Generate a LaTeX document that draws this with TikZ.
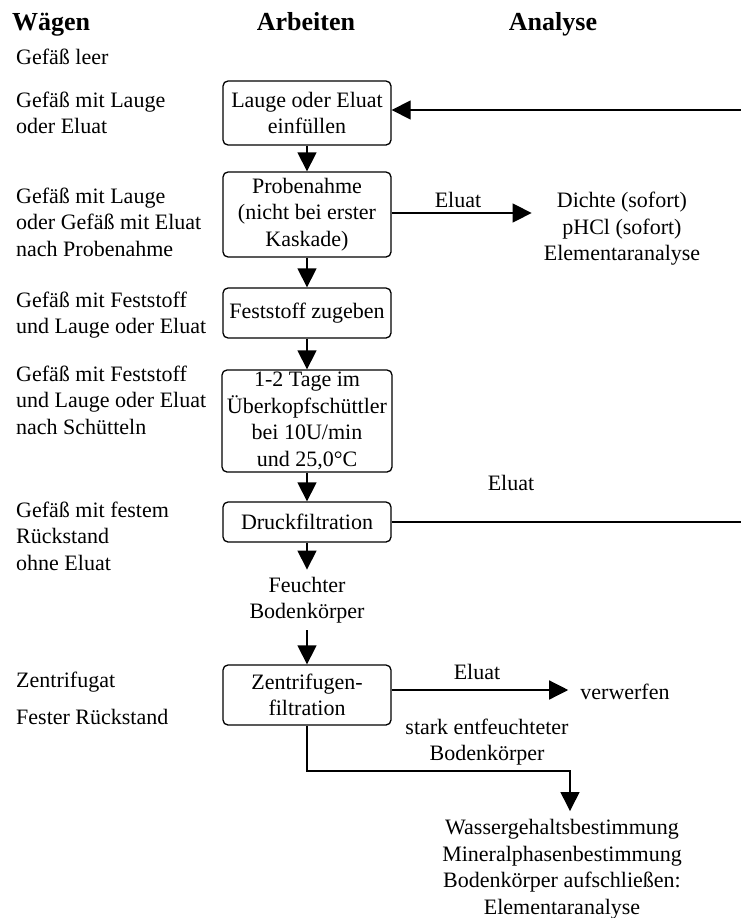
\documentclass[tikz,border=0pt]{standalone}
\usepackage{fontspec}
\setmainfont{Liberation Serif}
\usetikzlibrary{arrows.meta}

\begin{document}
\begin{tikzpicture}[x=1pt, y=-1pt,
    every node/.style={font=\fontsize{22}{26.5}\selectfont, inner sep=0pt},
    head/.style={font=\fontsize{26}{28}\selectfont\bfseries, anchor=base},
    wtext/.style={anchor=west, align=left},
    atext/.style={align=center},
    stepbox/.style={draw, rounded corners=5pt, line width=1.3pt,
        minimum width=168pt, align=center, inner sep=3pt},
    line/.style={line width=1.3pt},
    flow/.style={line width=1.3pt, -{Triangle[length=19pt,width=19pt]}}]
    \useasboundingbox (0,0) rectangle (741,918);

    \node[head, anchor=base west] (hwaegen) at (12,30) {Wägen};
    \node[head] (harbeit) at (306,30) {Arbeiten};
    \node[head] (hanalyse) at (553,30) {Analyse};

    \node[wtext] (w0) at (16,57) {Gefäß leer};
    \node[wtext] (w1) at (16,113) {Gefäß mit Lauge\\oder Eluat};
    \node[wtext] (w2) at (16,222) {Gefäß mit Lauge\\oder Gefäß mit Eluat\\nach Probenahme};
    \node[wtext] (w3) at (16,315) {Gefäß mit Feststoff\\und Lauge oder Eluat};
    \node[wtext] (w4) at (16,400) {Gefäß mit Feststoff\\und Lauge oder Eluat\\nach Schütteln};
    \node[wtext] (w5) at (16,536) {Gefäß mit festem\\Rückstand\\ohne Eluat};
    \node[wtext] (w6) at (16,682) {Zentrifugat};
    \node[wtext] (w7) at (16,717) {Fester Rückstand};

    \node[stepbox, minimum height=64pt] (einfuellen) at (307,113) {Lauge oder Eluat\\einfüllen};
    \node[stepbox, minimum height=85pt] (probe) at (307,214.5) {Probenahme\\(nicht bei erster\\Kaskade)};
    \node[stepbox, minimum height=50pt] (feststoff) at (307,313) {Feststoff zugeben};
    \node[stepbox, minimum width=170pt, minimum height=102pt, inner sep=1pt] (schuetteln) at (307,421)
        {1-2 Tage im\\Überkopfschüttler\\bei 10U/min\\und 25,0°C};
    \node[stepbox, minimum height=40pt] (druck) at (307,522) {Druckfiltration};
    \node[atext, inner sep=7pt] (feucht) at (307,600) {Feuchter\\Bodenkörper};
    \node[stepbox, minimum height=60pt] (zentri) at (307,695) {Zentrifugen-\\filtration};

    \node[atext] (dichte) at (622,229) {Dichte (sofort)\\pHCl (sofort)\\Elementaranalyse};
    \node[atext] (verwerfen) at (625,692) {verwerfen};
    \node[atext, inner sep=8pt] (ergebnis) at (562,869)
        {Wassergehaltsbestimmung\\Mineralphasenbestimmung\\Bodenkörper aufschließen:\\Elementaranalyse};

    \node (eluat1) at (458,200) {Eluat};
    \node (eluat2) at (511,483) {Eluat};
    \node (eluat3) at (477,672) {Eluat};
    \node[atext] (stark) at (487,742) {stark entfeuchteter\\Bodenkörper};

    \coordinate (rein) at (741,110);
    \coordinate (knick) at (570,771);

    \draw[flow] (rein) -- (rein -| einfuellen.east);
    \draw[flow] (einfuellen) -- (probe);
    \draw[flow] (probe) -- (feststoff);
    \draw[flow] (feststoff) -- (schuetteln);
    \draw[flow] (schuetteln) -- (druck);
    \draw[flow] (druck) -- (feucht);
    \draw[flow] (feucht) -- (zentri);
    \draw[flow] (probe.east |- 0,213) -- ([xshift=-12pt]dichte.west |- 0,213);
    \draw[line] (druck.east) -- (druck.east -| rein);
    \draw[flow] (zentri.east |- 0,690) -- ([xshift=-12pt]verwerfen.west |- 0,690);
    \draw[flow] (zentri.south) |- (knick) -- (knick |- ergebnis.north);
\end{tikzpicture}
\end{document}
